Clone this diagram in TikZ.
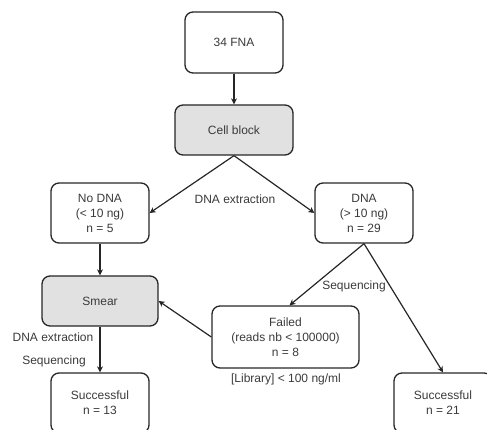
\documentclass[tikz,border=0pt]{standalone}
\usepackage{fontspec}
\setmainfont{Liberation Sans}
\usetikzlibrary{arrows.meta}
\definecolor{linecol}{HTML}{262626}
\definecolor{txtcol}{HTML}{3A3A3A}
\definecolor{boxgray}{HTML}{E1E1E1}
\begin{document}
\begin{tikzpicture}[x=1pt,y=-1pt,
  box/.style={draw=linecol,line width=1.3pt,rounded corners=8pt,align=center,
    text=txtcol,font=\fontsize{12}{15}\selectfont,inner sep=0pt},
  graybox/.style={box,fill=boxgray},
  lbl/.style={text=txtcol,font=\fontsize{12}{15}\selectfont,inner sep=1pt},
  arr/.style={draw=linecol,line width=1.2pt,-{Stealth[length=6pt,width=6pt]}}]
\useasboundingbox (0,0) rectangle (487,430);
\begin{scope}
\clip (0,0) rectangle (487,430);
\node[box,minimum width=98pt,minimum height=61pt] (fna) at (234,42.5) {34 FNA};
\node[graybox,minimum width=118pt,minimum height=50pt] (cell) at (234,130) {Cell block};
\node[box,minimum width=98pt,minimum height=60pt] (nodna) at (100,213) {No DNA\\(< 10 ng)\\n = 5};
\node[box,minimum width=98pt,minimum height=60pt] (dna) at (364,213) {DNA\\(> 10 ng)\\n = 29};
\node[graybox,minimum width=116pt,minimum height=50pt] (smear) at (100,301) {Smear};
\node[box,minimum width=147pt,minimum height=62pt] (failed) at (285.5,337) {Failed\\(reads nb < 100000)\\n = 8};
\node[box,minimum width=98pt,minimum height=60pt] (s13) at (100,403) {Successful\\n = 13};
\node[box,minimum width=98pt,minimum height=60pt] (s21) at (443,403) {Successful\\n = 21};

\draw[arr] (fna) -- (cell);
\draw[arr] (cell.south) -- (nodna.east);
\draw[arr] (cell.south) -- (dna.west);
\draw[arr] (nodna) -- (smear);
\draw[arr] (smear) -- (s13);
\draw[arr] (dna.south) -- ([xshift=4pt]failed.north);
\draw[arr] (dna.south) -- (s21.north);
\draw[arr] (failed.west) -- (smear.east);

\node[lbl] (l1) at (235,199) {DNA extraction};
\node[lbl] (l2) at (354,286) {Sequencing};
\node[lbl] (l3) at (53,337) {DNA extraction};
\node[lbl] (l4) at (54,361) {Sequencing};
\node[lbl] (l5) at (286,379) {[Library] < 100 ng/ml};
\end{scope}
\end{tikzpicture}
\end{document}
